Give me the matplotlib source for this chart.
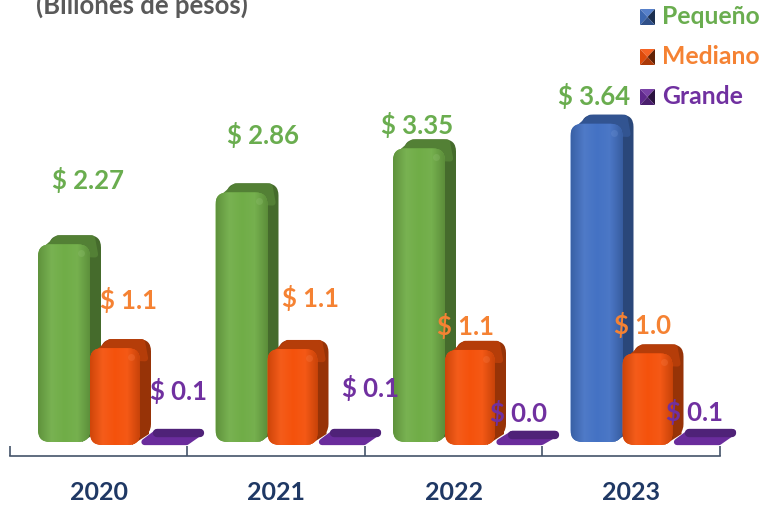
import matplotlib
matplotlib.use("Agg")
import matplotlib.pyplot as plt
from matplotlib.colors import LinearSegmentedColormap
from matplotlib.patches import FancyBboxPatch, Polygon
import numpy as np

plt.rcParams['font.family'] = ['Lato', 'DejaVu Sans']
plt.rcParams['font.weight'] = 'bold'

years = ["2020", "2021", "2022", "2023"]
pequeno = [2.28, 2.87, 3.37, 3.65]
mediano = [1.1, 1.09, 1.08, 1.04]
grande = [0.1, 0.1, 0.08, 0.1]

pequeno_labels = ["$ 2.27", "$ 2.86", "$ 3.35", "$ 3.64"]
mediano_labels = ["$ 1.1", "$ 1.1", "$ 1.1", "$ 1.0"]
grande_labels = ["$ 0.1", "$ 0.1", "$ 0.0", "$ 0.1"]

# label offsets from the top of each bar, in pixels
pequeno_off = [(23, 64), (21, 57), (-2, 23), (-3, 28)]
mediano_off = [(13, 48), (17, 51), (-5, 24), (-6, 28)]
grande_off = [(10, 45), (24, 48), (-5, 25), (-7, 24)]

GREEN = "#70ad47"
BLUE = "#4472c4"
ORANGE = "#f4520c"
PURPLE = "#6a2c9c"
TXT_GREEN = "#6aad4f"
TXT_ORANGE = "#f58233"
TXT_PURPLE = "#7030a0"

W, H = 765, 512
STEP = 177.5    # pixels per category
UNIT = 88.0     # pixels per billon
BASE = 445.0    # baseline pixel row
CENTER = 98.5   # first category centre


def dx(p):
    return p / STEP


def dy(p):
    return p / UNIT


def shade(col, f):
    c = np.array(matplotlib.colors.to_rgb(col))
    if f < 1:
        return tuple(c * f)
    return tuple(c + (1 - c) * (f - 1))


def box(ax, x0, x1, y0, y1, color, r, z):
    p = FancyBboxPatch((x0 + dx(r), y0 + dy(r)), x1 - x0 - 2 * dx(r), y1 - y0 - 2 * dy(r),
                       boxstyle="round,pad=%f,rounding_size=%f" % (dx(r), dx(r)),
                       mutation_aspect=STEP / UNIT, fc=color, ec="none", zorder=z)
    ax.add_patch(p)
    return p


def bar3d(ax, i, off, width, value, col, bottom_gap=0):
    x0 = i + dx(off)
    x1 = x0 + dx(width)
    y0 = dy(bottom_gap)
    z = 3 + off / 100.0 + i
    depth_x, depth_y = dx(11), dy(9)
    side = shade(col, 0.62)
    top = shade(col, 0.74)
    # side face, joined to the front at the bottom
    box(ax, x0 + depth_x, x1 + depth_x, y0 + depth_y, value + depth_y, side, 12, z)
    ax.add_patch(Polygon([(x1 - dx(8), y0), (x1 + depth_x - dx(2), y0 + depth_y + dy(2)),
                          (x1 + depth_x - dx(2), value), (x1 - dx(8), value)],
                         closed=True, fc=side, ec="none", zorder=z))
    # top face: a slanted strip from the front corners to the back edge
    ax.add_patch(Polygon([(x0 + dx(4), value - dy(8)), (x0 + dx(20), value + depth_y - dy(3)),
                          (x1 + dx(2), value + depth_y - dy(3)), (x1 + dx(5), value - dy(10))],
                         closed=True, fc=top, ec=top, lw=4.5, joinstyle="round", zorder=z + 0.01))
    # front face with a soft bevel
    front = box(ax, x0, x1, y0, value, col, 12, z + 0.02)
    cmap = LinearSegmentedColormap.from_list("b", [shade(col, 0.85), shade(col, 1.06), col, shade(col, 1.04), shade(col, 0.82)])
    im = ax.imshow(np.linspace(0, 1, 64).reshape(1, -1), extent=(x0, x1, y0, value), cmap=cmap,
                   aspect="auto", zorder=z + 0.03)
    im.set_clip_path(front)
    # small highlight at the top right corner
    ax.plot([x1 - dx(9)], [value - dy(9)], "o", ms=5, color=shade(col, 1.2), alpha=0.35,
            mec="none", zorder=z + 0.04)


fig = plt.figure(figsize=(W / 100, H / 100), dpi=100)
ax = fig.add_axes([0, 0, 1, 1])

for i in range(len(years)):
    col = BLUE if i == 3 else GREEN
    bar3d(ax, i, -60.5, 52, pequeno[i], col, bottom_gap=3)
    bar3d(ax, i, -8.5, 50, mediano[i], ORANGE)

    # the big category is almost flat, drawn as a skewed plate
    x0 = i + dx(46)
    h = grande[i]
    plate = Polygon([(x0, dy(3)), (x0 + dx(42), dy(3)), (x0 + dx(56), h + dy(4)), (x0 + dx(13), h + dy(4))],
                    closed=True, fc=PURPLE, ec=PURPLE, lw=4.5, joinstyle="round", zorder=20 + i)
    ax.add_patch(plate)
    ax.plot([x0 + dx(12), x0 + dx(55)], [h + dy(3), h + dy(3)], color="#4f2278", lw=6,
            solid_capstyle="round", zorder=21 + i)

    for vals, labs, off, bx, c in [(pequeno, pequeno_labels, pequeno_off, -34, TXT_GREEN),
                                   (mediano, mediano_labels, mediano_off, 17, TXT_ORANGE),
                                   (grande, grande_labels, grande_off, 70, TXT_PURPLE)]:
        ax.text(i + dx(bx + off[i][0]), vals[i] + dy(off[i][1]), labs[i], color=c, fontsize=18.5,
                ha="center", va="center", zorder=40)

ax.set_xlim(-CENTER / STEP, (W - CENTER) / STEP)
ax.set_ylim((BASE - H) / UNIT, BASE / UNIT)

for s in ["top", "left", "right"]:
    ax.spines[s].set_visible(False)
ax.spines["bottom"].set_position(("data", -0.13))
ax.spines["bottom"].set_bounds(-0.5, 3.5)
ax.spines["bottom"].set_color("#44546a")
ax.spines["bottom"].set_linewidth(1.2)
ax.set_yticks([])
ax.set_xticks(range(len(years)))
ax.set_xticklabels(years, fontsize=18, color="#1f3864", fontweight="bold")
ax.tick_params(axis="x", which="major", length=0, pad=18)
ax.set_xticks(np.arange(-0.5, 4, 1), minor=True)
ax.tick_params(axis="x", which="minor", direction="in", length=7, width=1.2, color="#44546a")

fig.text(36 / W, 1 - 5 / H, "(Billones de pesos)", color="#595959", fontsize=18.5, ha="left", va="center")

# legend with bevelled squares
legend_names = ["Pequeño", "Mediano", "Grande"]
legend_cols = [BLUE, ORANGE, PURPLE]
legend_txt = [TXT_GREEN, TXT_ORANGE, TXT_PURPLE]
for k in range(3):
    yc = 17 + k * 40
    x0, x1, y0, y1 = 640, 655, yc - 8, yc + 8
    mx, my = (x0 + x1) / 2, (y0 + y1) / 2
    faces = [([(x0, y0), (x1, y0), (mx, my)], 1.1),
             ([(x0, y0), (x0, y1), (mx, my)], 0.9),
             ([(x1, y0), (x1, y1), (mx, my)], 0.4),
             ([(x0, y1), (x1, y1), (mx, my)], 0.7)]
    for pts, f in faces:
        fig.add_artist(Polygon([(a / W, 1 - b / H) for a, b in pts], closed=True, fc=shade(legend_cols[k], f),
                               ec="none", transform=fig.transFigure))
    fig.text(662 / W, 1 - yc / H, legend_names[k], color=legend_txt[k], fontsize=17.8, ha="left", va="center")

fig.savefig("out.png", dpi=100)
